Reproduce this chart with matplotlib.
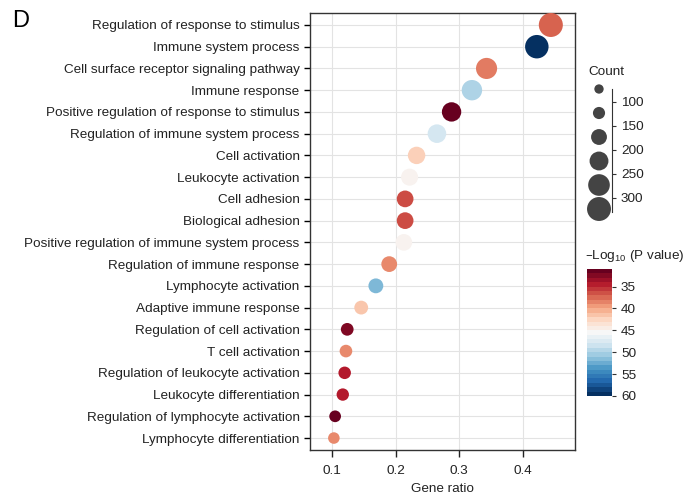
import matplotlib
matplotlib.use("Agg")
import matplotlib.pyplot as plt
from matplotlib.cm import ScalarMappable
from matplotlib.colors import Normalize

plt.rcParams['font.family'] = ['Liberation Sans', 'DejaVu Sans']
plt.rcParams['mathtext.default'] = 'regular'

terms = ["Regulation of response to stimulus", "Immune system process",
         "Cell surface receptor signaling pathway", "Immune response",
         "Positive regulation of response to stimulus", "Regulation of immune system process",
         "Cell activation", "Leukocyte activation", "Cell adhesion", "Biological adhesion",
         "Positive regulation of immune system process", "Regulation of immune response",
         "Lymphocyte activation", "Adaptive immune response", "Regulation of cell activation",
         "T cell activation", "Regulation of leukocyte activation", "Leukocyte differentiation",
         "Regulation of lymphocyte activation", "Lymphocyte differentiation"]
gene_ratio = [0.444, 0.422, 0.343, 0.320, 0.288, 0.265, 0.233, 0.222, 0.215, 0.215,
              0.213, 0.190, 0.169, 0.146, 0.124, 0.122, 0.120, 0.117, 0.105, 0.103]
counts = [333, 317, 257, 240, 216, 199, 175, 167, 161, 161,
          160, 143, 127, 110, 93, 92, 90, 88, 79, 77]
logp = [37, 60, 38, 50, 31, 48, 42, 45, 36, 36,
        45, 38.5, 52, 41.5, 32, 38.5, 34, 34, 31, 38.5]

legend_counts = [50, 85, 145, 205, 270, 330]
legend_ticks = [100, 150, 200, 250, 300]
cbar_ticks = [35, 40, 45, 50, 55, 60]

k = 0.9  # marker area per count
fs = 9.7
vmin, vmax = 31, 60
cmap = plt.get_cmap('RdBu')

fig = plt.figure(figsize=(6.86, 4.97), dpi=100)
ax = fig.add_axes([310/686, 1 - 450/497, 265/686, 437/497])

ypos = list(range(len(terms)))
ax.scatter(gene_ratio, ypos, s=[c * k for c in counts], c=logp, cmap=cmap,
           vmin=vmin, vmax=vmax, edgecolors='none', zorder=3)
ax.set_yticks(ypos)
ax.set_yticklabels(terms, fontsize=fs, color='#222222')
ax.set_ylim(len(terms) - 0.45, -0.55)
ax.set_xlim(0.0655, 0.482)
ax.set_xticks([0.1, 0.2, 0.3, 0.4])
ax.set_xticklabels(['0.1', '0.2', '0.3', '0.4'])
ax.tick_params(axis='x', labelsize=fs, colors='#222222', length=5, width=1, pad=6)
ax.tick_params(axis='y', length=4, width=1)
ax.grid(True, color='#e3e3e3', linewidth=0.8, zorder=0)
ax.set_axisbelow(True)
for sp in ax.spines.values():
    sp.set_color('#333333')
    sp.set_linewidth(1)
ax.set_xlabel('Gene ratio', fontsize=fs, color='#222222', labelpad=4)

fig.text(12/686, 1 - 21/497, 'D', fontsize=17, va='center', ha='left')

# size legend
lax = fig.add_axes([587/686, 1 - 212/497, 25/686, 123/497])
ly = list(range(len(legend_counts)))
lax.scatter([0.48] * len(ly), ly, s=[c * k for c in legend_counts], color='#444444',
            edgecolors='none', clip_on=False)
lax.set_xlim(0, 1)
lax.set_ylim(5.125, 0)
for name in ['top', 'bottom', 'left']:
    lax.spines[name].set_visible(False)
lax.spines['right'].set_color('#333333')
lax.set_xticks([])
lax.yaxis.tick_right()
lax.set_yticks([i + 0.54 for i in range(len(legend_ticks))])
lax.set_yticklabels([str(t) for t in legend_ticks])
lax.tick_params(axis='y', labelsize=fs, length=3, color='#333333', colors='#222222')
lax.patch.set_visible(False)
fig.text(588/686, 1 - 72/497, 'Count', fontsize=fs, va='center', ha='left', color='#222222')

# colour bar
cax = fig.add_axes([587/686, 1 - 396/497, 25/686, 127/497])
sm = ScalarMappable(norm=Normalize(vmin, vmax), cmap=plt.get_cmap('RdBu', 29))
cb = fig.colorbar(sm, cax=cax, ticks=cbar_ticks)
cb.outline.set_visible(False)
cax.invert_yaxis()
cax.tick_params(labelsize=fs, length=3, color='#333333', colors='#222222')
fig.text(585/686, 1 - 256/497, '\u2013Log$_{10}$ (P value)', fontsize=fs, va='center',
         ha='left', color='#222222')

fig.savefig('out.png', dpi=100)
